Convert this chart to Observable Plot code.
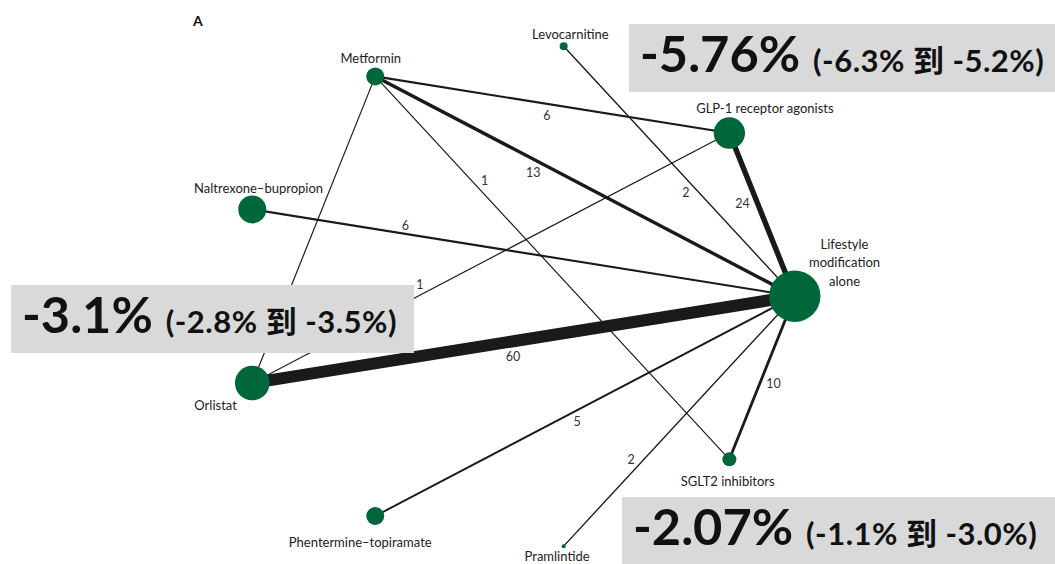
<!DOCTYPE html>
<html><head><meta charset="utf-8">
<script src="https://cdn.jsdelivr.net/npm/d3@7"></script>
<script src="https://cdn.jsdelivr.net/npm/@observablehq/plot@0.6"></script>
<style>
body{margin:0;background:#fff;}
#chart{position:relative;width:1055px;height:564px;}
</style>
</head><body><div id="chart"></div>
<script>
// ---------- data ----------
const treatments = ["Lifestyle modification alone", "GLP-1 receptor agonists", "Levocarnitine", "Metformin",
  "Naltrexone–bupropion", "Orlistat", "Phentermine–topiramate", "Pramlintide", "SGLT2 inhibitors"];
const treatmentLabels = ["Lifestyle\nmodification\nalone", "GLP-1 receptor agonists", "Levocarnitine", "Metformin",
  "Naltrexone–bupropion", "Orlistat", "Phentermine–topiramate", "Pramlintide", "SGLT2 inhibitors"];
const participants = [660, 246, 16, 81, 196, 300, 81, 4, 49];   // relative node weight (estimated)

const edgeSource = ["Metformin", "Metformin", "Metformin", "Metformin", "Levocarnitine", "GLP-1 receptor agonists",
  "Naltrexone–bupropion", "Orlistat", "Orlistat", "Lifestyle modification alone", "Lifestyle modification alone", "Lifestyle modification alone"];
const edgeTarget = ["GLP-1 receptor agonists", "Lifestyle modification alone", "SGLT2 inhibitors", "Orlistat",
  "Lifestyle modification alone", "Lifestyle modification alone", "Lifestyle modification alone", "GLP-1 receptor agonists",
  "Lifestyle modification alone", "SGLT2 inhibitors", "Phentermine–topiramate", "Pramlintide"];
const edgeTrials = [6, 13, 1, 1, 2, 24, 6, 1, 60, 10, 5, 2];

const effectMain = ["-5.76%", "-3.1%", "-2.07%"];
const effectCI = ["(-6.3% 到 -5.2%)", "(-2.8% 到 -3.5%)", "(-1.1% 到 -3.0%)"];
const panelLabel = "A";

// ---------- layout (not data) ----------
const CX = 514.6, CY = 295.7, KX = 279.7, KY = 253.8;
const nodeLabelDX = [49.7, 35.5, 6.7, -4.5, 6.3, -36.7, -15, -6.6, -1.7];
const nodeLabelDY = [-34.7, -25.5, -12.7, -19, -22, 21.5, 25.5, 9.5, 20.5];
const edgeLabelT = [0.49, 0.39, 0.29, 0.72, 0.56, 0.40, 0.28, 0.36, 0.476, 0.51, 0.53, 0.68];
const edgeLabelOff = [12, 12, -9, 9, 10, 14, -8, -9, 16, -13, -10, 9];
const boxes = [{x: 629, y: 24, w: 426, h: 68}, {x: 11, y: 285, w: 403, h: 68}, {x: 622, y: 497, w: 433, h: 70}];

// circular layout: node i at angle i*40°
const nodes = treatments.map((name, i) => {
  const a = i * 40 * Math.PI / 180;
  const x = Math.cos(a), y = Math.sin(a);
  return {name, label: treatmentLabels[i], size: participants[i], x, y,
          lx: x + nodeLabelDX[i] / KX, ly: y - nodeLabelDY[i] / KY};
});
const byName = new Map(nodes.map(d => [d.name, d]));
const edges = edgeTrials.map((n, i) => {
  const s = byName.get(edgeSource[i]), t = byName.get(edgeTarget[i]);
  const px = (t.x - s.x) * KX, py = -(t.y - s.y) * KY;
  const len = Math.hypot(px, py), ux = px / len, uy = py / len;
  const perpX = -uy, perpY = ux;
  const tt = edgeLabelT[i], off = edgeLabelOff[i];
  return {n, x1: s.x, y1: s.y, x2: t.x, y2: t.y,
          lx: s.x + tt * (t.x - s.x) + off * perpX / KX,
          ly: s.y + tt * (t.y - s.y) - off * perpY / KY};
});
const widthScale = d3.scaleLinear().domain([0, 60]).range([1, 12]);

const plot = Plot.plot({
  width: 1055, height: 564, margin: 0,
  x: {domain: [-1, 1], range: [CX - KX, CX + KX], axis: null},
  y: {domain: [-1, 1], range: [CY + KY, CY - KY], axis: null},
  r: {type: "sqrt", domain: [0, 660], range: [0, 25.7]},
  style: {fontFamily: "Lato, 'Noto Sans', sans-serif", background: "#fff"},
  marks: [
    Plot.link(edges, {x1: "x1", y1: "y1", x2: "x2", y2: "y2", stroke: "#1a1a1a",
      strokeWidth: d => widthScale(d.n), strokeLinecap: "butt"}),
    Plot.dot(nodes, {x: "x", y: "y", r: "size", fill: "#00673b"}),
    Plot.text(edges, {x: "lx", y: "ly", text: d => String(d.n), fontSize: 12.5, fill: "#333"}),
    Plot.text(nodes, {x: "lx", y: "ly", text: "label", fontSize: 13, fill: "#222", lineHeight: 1.4})
  ]
});
document.getElementById("chart").appendChild(plot);

// annotations
const svg = d3.select(plot);
svg.append("text").attr("x", 193).attr("y", 26).attr("font-size", 14).attr("font-weight", 700)
  .attr("text-anchor", "start").attr("font-family", "Lato, sans-serif").attr("fill", "#111").text(panelLabel);
boxes.forEach((b, i) => {
  const g = svg.append("g");
  g.append("rect").attr("x", b.x).attr("y", b.y).attr("width", b.w).attr("height", b.h).attr("fill", "#d9d9d9");
  const t = g.append("text").attr("x", b.x + 11).attr("y", b.y + 48).attr("text-anchor", "start")
    .attr("font-family", "Lato, 'Noto Sans CJK SC', sans-serif").attr("font-weight", 700).attr("fill", "#111");
  t.append("tspan").attr("font-size", 50.5).text(effectMain[i]);
  t.append("tspan").attr("font-size", 31).attr("letter-spacing", 0.5).attr("dx", 13).text(effectCI[i]);
});
</script>
</body></html>
